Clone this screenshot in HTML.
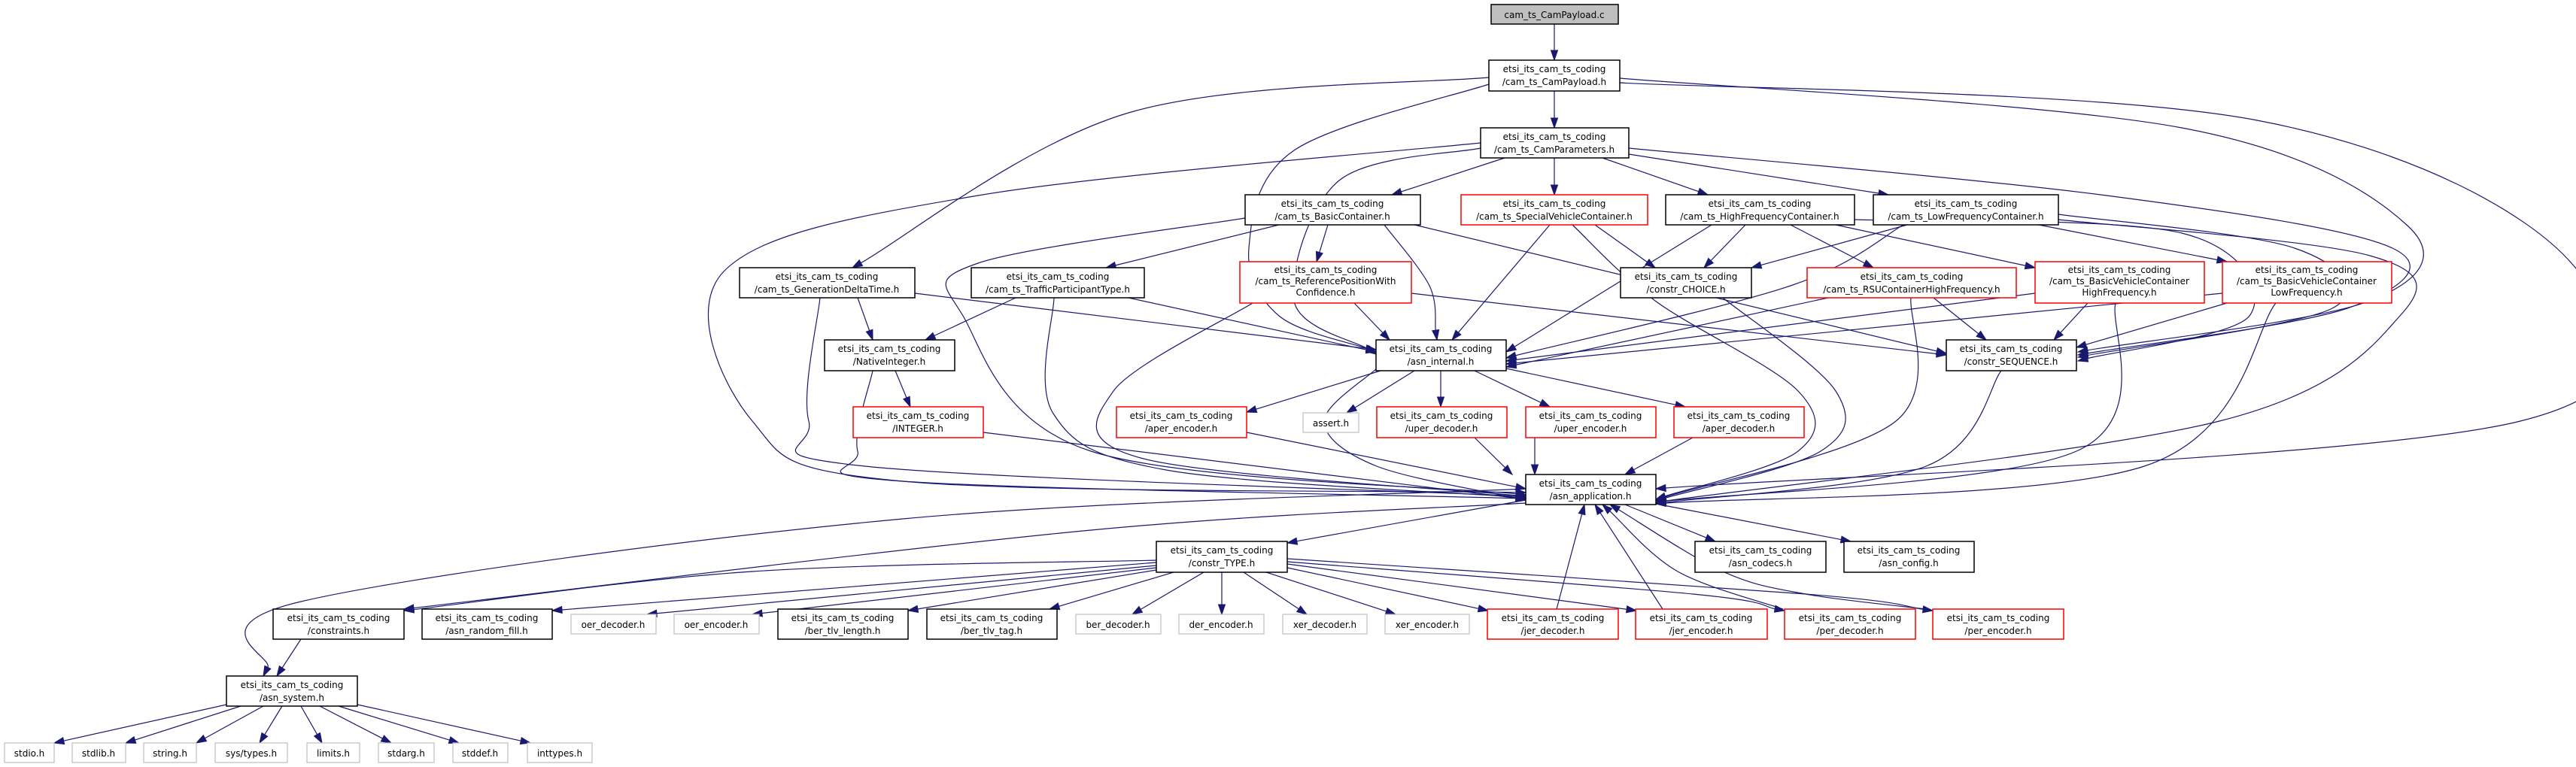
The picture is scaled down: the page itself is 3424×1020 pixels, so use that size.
<!DOCTYPE html>
<html><head><meta charset="utf-8"><style>
html,body{margin:0;padding:0;background:#fff;}
svg{display:block;}
text{font-family:"DejaVu Sans","Liberation Sans",sans-serif;font-size:12px;fill:#000;text-anchor:middle;}
.n{fill:#fff;stroke:#000;stroke-width:1.5;}
.r{fill:#fff;stroke:#ff0000;stroke-width:1.5;}
.g{fill:#fff;stroke:#bfbfbf;stroke-width:1.2;}
.root{fill:#bfbfbf;stroke:#000;stroke-width:1.5;}
.e{fill:none;stroke:#191970;stroke-width:1.2;}
.a{fill:#191970;stroke:#191970;}
</style></head><body>
<svg id="s" width="3424" height="1020" viewBox="0 0 3424 1020" xmlns="http://www.w3.org/2000/svg">
<g id="edges"></g>
<g id="nodes">
<rect class="root" x="1982" y="6" width="169" height="26"/><text x="2066" y="24">cam_ts_CamPayload.c</text>
<rect class="n" x="1979" y="80" width="174" height="41"/><text x="2066" y="96">etsi_its_cam_ts_coding</text><text x="2066" y="113">/cam_ts_CamPayload.h</text>
<rect class="n" x="1968" y="170" width="197" height="40"/><text x="2066" y="186">etsi_its_cam_ts_coding</text><text x="2066" y="203">/cam_ts_CamParameters.h</text>
<rect class="n" x="1655" y="259" width="233" height="40"/><text x="1771" y="275">etsi_its_cam_ts_coding</text><text x="1771" y="292">/cam_ts_BasicContainer.h</text>
<rect class="r" x="1942" y="259" width="248" height="40"/><text x="2066" y="275">etsi_its_cam_ts_coding</text><text x="2066" y="292">/cam_ts_SpecialVehicleContainer.h</text>
<rect class="n" x="2214" y="259" width="251" height="40"/><text x="2339" y="275">etsi_its_cam_ts_coding</text><text x="2339" y="292">/cam_ts_HighFrequencyContainer.h</text>
<rect class="n" x="2490" y="259" width="246" height="40"/><text x="2613" y="275">etsi_its_cam_ts_coding</text><text x="2613" y="292">/cam_ts_LowFrequencyContainer.h</text>
<rect class="n" x="983" y="356" width="233" height="40"/><text x="1099" y="372">etsi_its_cam_ts_coding</text><text x="1099" y="389">/cam_ts_GenerationDeltaTime.h</text>
<rect class="n" x="1291" y="356" width="230" height="40"/><text x="1406" y="372">etsi_its_cam_ts_coding</text><text x="1406" y="389">/cam_ts_TrafficParticipantType.h</text>
<rect class="r" x="1648" y="348" width="228" height="55"/><text x="1762" y="363">etsi_its_cam_ts_coding</text><text x="1762" y="378">/cam_ts_ReferencePositionWith</text><text x="1762" y="393">Confidence.h</text>
<rect class="n" x="2154" y="356" width="174" height="40"/><text x="2241" y="372">etsi_its_cam_ts_coding</text><text x="2241" y="389">/constr_CHOICE.h</text>
<rect class="r" x="2402" y="356" width="278" height="40"/><text x="2541" y="372">etsi_its_cam_ts_coding</text><text x="2541" y="389">/cam_ts_RSUContainerHighFrequency.h</text>
<rect class="r" x="2705" y="348" width="225" height="55"/><text x="2817" y="363">etsi_its_cam_ts_coding</text><text x="2817" y="378">/cam_ts_BasicVehicleContainer</text><text x="2817" y="393">HighFrequency.h</text>
<rect class="r" x="2954" y="348" width="225" height="55"/><text x="3066" y="363">etsi_its_cam_ts_coding</text><text x="3066" y="378">/cam_ts_BasicVehicleContainer</text><text x="3066" y="393">LowFrequency.h</text>
<rect class="n" x="1096" y="452" width="173" height="41"/><text x="1182" y="468">etsi_its_cam_ts_coding</text><text x="1182" y="485">/NativeInteger.h</text>
<rect class="n" x="1829" y="452" width="173" height="41"/><text x="1915" y="468">etsi_its_cam_ts_coding</text><text x="1915" y="485">/asn_internal.h</text>
<rect class="n" x="2587" y="452" width="173" height="41"/><text x="2673" y="468">etsi_its_cam_ts_coding</text><text x="2673" y="485">/constr_SEQUENCE.h</text>
<rect class="r" x="1134" y="541" width="173" height="41"/><text x="1220" y="557">etsi_its_cam_ts_coding</text><text x="1220" y="574">/INTEGER.h</text>
<rect class="r" x="1484" y="541" width="173" height="41"/><text x="1570" y="557">etsi_its_cam_ts_coding</text><text x="1570" y="574">/aper_encoder.h</text>
<rect class="g" x="1732" y="549" width="74" height="26"/><text x="1769" y="567">assert.h</text>
<rect class="r" x="1830" y="541" width="173" height="41"/><text x="1916" y="557">etsi_its_cam_ts_coding</text><text x="1916" y="574">/uper_decoder.h</text>
<rect class="r" x="2028" y="541" width="173" height="41"/><text x="2114" y="557">etsi_its_cam_ts_coding</text><text x="2114" y="574">/uper_encoder.h</text>
<rect class="r" x="2225" y="541" width="173" height="41"/><text x="2311" y="557">etsi_its_cam_ts_coding</text><text x="2311" y="574">/aper_decoder.h</text>
<rect class="n" x="2028" y="631" width="173" height="40"/><text x="2114" y="647">etsi_its_cam_ts_coding</text><text x="2114" y="664">/asn_application.h</text>
<rect class="n" x="1537" y="720" width="174" height="41"/><text x="1624" y="736">etsi_its_cam_ts_coding</text><text x="1624" y="753">/constr_TYPE.h</text>
<rect class="n" x="2253" y="720" width="174" height="41"/><text x="2340" y="736">etsi_its_cam_ts_coding</text><text x="2340" y="753">/asn_codecs.h</text>
<rect class="n" x="2451" y="720" width="173" height="41"/><text x="2537" y="736">etsi_its_cam_ts_coding</text><text x="2537" y="753">/asn_config.h</text>
<rect class="n" x="363" y="810" width="174" height="40"/><text x="450" y="826">etsi_its_cam_ts_coding</text><text x="450" y="843">/constraints.h</text>
<rect class="n" x="561" y="810" width="173" height="40"/><text x="647" y="826">etsi_its_cam_ts_coding</text><text x="647" y="843">/asn_random_fill.h</text>
<rect class="g" x="759" y="817" width="113" height="26"/><text x="815" y="835">oer_decoder.h</text>
<rect class="g" x="896" y="817" width="113" height="26"/><text x="952" y="835">oer_encoder.h</text>
<rect class="n" x="1034" y="810" width="173" height="40"/><text x="1120" y="826">etsi_its_cam_ts_coding</text><text x="1120" y="843">/ber_tlv_length.h</text>
<rect class="n" x="1232" y="810" width="173" height="40"/><text x="1318" y="826">etsi_its_cam_ts_coding</text><text x="1318" y="843">/ber_tlv_tag.h</text>
<rect class="g" x="1430" y="817" width="113" height="26"/><text x="1486" y="835">ber_decoder.h</text>
<rect class="g" x="1567" y="817" width="113" height="26"/><text x="1623" y="835">der_encoder.h</text>
<rect class="g" x="1705" y="817" width="112" height="26"/><text x="1761" y="835">xer_decoder.h</text>
<rect class="g" x="1841" y="817" width="112" height="26"/><text x="1897" y="835">xer_encoder.h</text>
<rect class="r" x="1977" y="810" width="174" height="40"/><text x="2064" y="826">etsi_its_cam_ts_coding</text><text x="2064" y="843">/jer_decoder.h</text>
<rect class="r" x="2174" y="810" width="175" height="40"/><text x="2261" y="826">etsi_its_cam_ts_coding</text><text x="2261" y="843">/jer_encoder.h</text>
<rect class="r" x="2372" y="810" width="174" height="40"/><text x="2459" y="826">etsi_its_cam_ts_coding</text><text x="2459" y="843">/per_decoder.h</text>
<rect class="r" x="2569" y="810" width="174" height="40"/><text x="2656" y="826">etsi_its_cam_ts_coding</text><text x="2656" y="843">/per_encoder.h</text>
<rect class="n" x="301" y="899" width="174" height="40"/><text x="388" y="915">etsi_its_cam_ts_coding</text><text x="388" y="932">/asn_system.h</text>
<rect class="g" x="6" y="988" width="66" height="26"/><text x="39" y="1006">stdio.h</text>
<rect class="g" x="96" y="988" width="71" height="26"/><text x="131" y="1006">stdlib.h</text>
<rect class="g" x="191" y="988" width="70" height="26"/><text x="226" y="1006">string.h</text>
<rect class="g" x="286" y="988" width="96" height="26"/><text x="334" y="1006">sys/types.h</text>
<rect class="g" x="408" y="988" width="70" height="26"/><text x="443" y="1006">limits.h</text>
<rect class="g" x="503" y="988" width="74" height="26"/><text x="540" y="1006">stdarg.h</text>
<rect class="g" x="602" y="988" width="73" height="26"/><text x="638" y="1006">stddef.h</text>
<rect class="g" x="701" y="988" width="86" height="26"/><text x="744" y="1006">inttypes.h</text>
</g>
</svg>
<script>
var E=[
[[2066,32],[2066,80]],
[[2066,121],[2066,170]],
[[1979,103],[1500,150],[1133,356]],
[[1979,112],[1720,200],[1660,330],[1700,420],[1829,468]],
[[2153,104],[2900,170],[3200,300],[3150,400],[2762,468]],
[[2165,197],[2800,260],[3180,330],[3120,410],[2762,472]],
[[2153,110],[3000,160],[3418,350],[3350,560],[2201,650]],
[[2000,210],[1850,259]],
[[2066,210],[2066,259]],
[[2130,210],[2270,259]],
[[2165,205],[2510,259]],
[[1968,197],[1780,240],[1720,400],[1829,471]],
[[1968,190],[1300,260],[963,360],[1000,560],[1200,640],[2028,655]],
[[1700,299],[1470,356]],
[[1765,299],[1750,348]],
[[1840,299],[1900,380],[1910,452]],
[[1880,299],[2587,470]],
[[1655,290],[1300,350],[1280,420],[1450,600],[2028,658]],
[[2060,299],[1930,452]],
[[2120,299],[2200,356]],
[[2090,299],[2200,400],[2390,520],[2390,600],[2201,664]],
[[2320,299],[2265,356]],
[[2380,299],[2490,356]],
[[2440,299],[2705,356]],
[[2275,299],[2002,468]],
[[2465,292],[2900,310],[2990,420],[2762,480]],
[[2535,299],[2328,356]],
[[2530,299],[2380,380],[2002,476]],
[[2710,299],[2960,348]],
[[2736,285],[3050,330],[3100,410],[2762,475]],
[[2736,292],[3150,340],[3190,420],[2950,560],[2201,668]],
[[1140,396],[1160,452]],
[[1216,390],[1829,465]],
[[1090,396],[1075,560],[1150,620],[2028,660]],
[[1350,396],[1230,452]],
[[1500,396],[1829,468]],
[[1401,396],[1400,550],[1550,625],[2028,662]],
[[1800,403],[1847,452]],
[[1876,390],[2587,472]],
[[1665,403],[1480,520],[1520,610],[2028,660]],
[[2290,396],[2440,520],[2420,600],[2201,666]],
[[2430,396],[2002,488]],
[[2570,396],[2640,452]],
[[2540,396],[2520,560],[2201,665]],
[[2705,390],[2002,480]],
[[2775,403],[2730,452]],
[[2812,403],[2760,600],[2201,668]],
[[2954,390],[2002,484]],
[[2960,403],[2760,462]],
[[3025,403],[2850,620],[2201,670]],
[[2660,493],[2560,620],[2201,670]],
[[1190,493],[1210,541]],
[[1160,493],[1140,600],[1200,640],[2028,663]],
[[1307,575],[2028,664]],
[[1835,493],[1657,548]],
[[1880,493],[1790,549]],
[[1915,493],[1915,541]],
[[1960,493],[2060,541]],
[[2002,490],[2240,541]],
[[1830,490],[1760,560],[1830,620],[2028,665]],
[[1657,575],[2028,650]],
[[1960,582],[2010,631]],
[[2040,582],[2040,631]],
[[2250,582],[2160,631]],
[[2028,665],[1711,722]],
[[2160,671],[2280,720]],
[[2201,670],[2460,720]],
[[2028,650],[1200,690],[400,800],[350,899]],
[[2028,669],[1450,705],[537,810]],
[[1537,745],[1000,760],[537,812]],
[[1537,748],[734,812]],
[[1537,752],[860,817]],
[[1537,755],[1000,817]],
[[1537,758],[1207,812]],
[[1560,761],[1395,810]],
[[1600,761],[1505,817]],
[[1624,761],[1624,817]],
[[1653,761],[1737,817]],
[[1683,761],[1855,817]],
[[1711,755],[1978,812]],
[[1711,750],[2175,812]],
[[1711,747],[2250,790],[2372,812]],
[[1711,743],[2400,790],[2569,812]],
[[2069,810],[2106,671]],
[[2210,810],[2120,671]],
[[2370,810],[2230,760],[2130,671]],
[[2560,810],[2400,790],[2290,760],[2140,671]],
[[400,850],[368,899]],
[[301,937],[72,988]],
[[320,939],[167,988]],
[[350,939],[261,988]],
[[375,939],[345,988]],
[[400,939],[428,988]],
[[425,939],[520,988]],
[[450,939],[610,988]],
[[475,937],[705,988]]
];
var ns="http://www.w3.org/2000/svg",g=document.getElementById("edges");
function P(d,c){var e=document.createElementNS(ns,"path");e.setAttribute("d",d);e.setAttribute("class",c);g.appendChild(e);}
E.forEach(function(p){
 var n=p.length,L=13,last=p[n-1],prev=p[n-2];
 var dx=last[0]-prev[0],dy=last[1]-prev[1],l=Math.hypot(dx,dy);dx/=l;dy/=l;
 var end=[last[0]-dx*L,last[1]-dy*L];
 var q=p.slice();q[n-1]=end;
 var d="M"+q[0][0]+","+q[0][1];
 if(n==2){d+=" L"+end[0]+","+end[1];}
 else{for(var i=0;i<n-1;i++){var p0=q[Math.max(i-1,0)],p1=q[i],p2=q[i+1],p3=q[Math.min(i+2,n-1)];
  var c1=[p1[0]+(p2[0]-p0[0])/6,p1[1]+(p2[1]-p0[1])/6],c2=[p2[0]-(p3[0]-p1[0])/6,p2[1]-(p3[1]-p1[1])/6];
  d+=" C"+c1+" "+c2+" "+p2;}}
 P(d,"e");
 var w=4.5,px=-dy,py=dx;
 P("M"+last[0]+","+last[1]+" L"+(end[0]+px*w)+","+(end[1]+py*w)+" L"+(end[0]-px*w)+","+(end[1]-py*w)+"Z","a");
});
</script>
</body></html>
